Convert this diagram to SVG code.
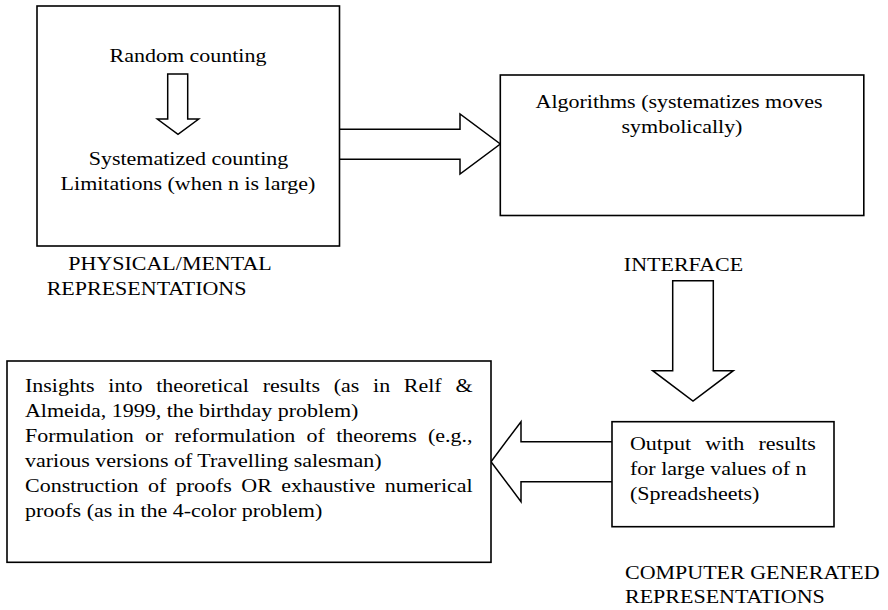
<svg xmlns="http://www.w3.org/2000/svg" width="888" height="610" viewBox="0 0 888 610">
<style>
  .box { fill: #ffffff; stroke: #000000; stroke-width: 1.6; }
  .arrow { fill: #ffffff; stroke: #000000; stroke-width: 1.5; stroke-linejoin: miter; }
  text { font-family: "Liberation Serif", "Times New Roman", serif; font-size: 22px; fill: #000000; }
  .c { text-anchor: middle; }
</style>
<rect x="0" y="0" width="888" height="610" fill="#ffffff"/>

<g id="connectors">
  <polyline class="arrow" points="339,129.3 460,129.3 460,114 500.3,144 460,174 460,159.3 339,159.3"/>
  <polygon class="arrow" points="672.7,280.7 713.3,280.7 713.3,370.7 733.3,370.7 693,401 652.7,370.7 672.7,370.7"/>
  <polyline class="arrow" points="612,441.7 521,441.7 521,421.7 491,461.7 521,501.7 521,481.7 612,481.7"/>
</g>

<g id="physical">
  <rect class="box" x="37" y="6" width="302.5" height="240"/>
  <text class="c" transform="translate(188,62) scale(1,0.86)">Random counting</text>
  <polygon class="arrow" points="167.7,74 187.7,74 187.7,119 198.7,119 178,134.3 157.3,119 167.7,119"/>
  <text class="c" transform="translate(188.5,165) scale(1,0.86)">Systematized counting</text>
  <text class="c" transform="translate(188,190) scale(1,0.86)">Limitations (when n is large)</text>
</g>
<g id="physical-label">
  <text transform="translate(68.3,270) scale(1,0.86)">PHYSICAL/MENTAL</text>
  <text transform="translate(46.7,295) scale(1,0.86)">REPRESENTATIONS</text>
</g>

<g id="algorithms">
  <rect class="box" x="500.3" y="75" width="363.5" height="140.5"/>
  <text class="c" transform="translate(679,108) scale(1,0.86)">Algorithms (systematizes moves</text>
  <text class="c" transform="translate(682,133) scale(1,0.86)">symbolically)</text>
</g>

<g id="interface-label">
  <text class="c" transform="translate(683.5,270.7) scale(1,0.86)">INTERFACE</text>
</g>

<g id="output">
  <rect class="box" x="612" y="421.7" width="222" height="105"/>
  <text transform="translate(630,450) scale(1,0.86)" word-spacing="8.7">Output with results</text>
  <text transform="translate(630,475) scale(1,0.86)">for large values of n</text>
  <text transform="translate(630,499.5) scale(1,0.86)">(Spreadsheets)</text>
</g>

<g id="computer-label">
  <text transform="translate(625,579) scale(1,0.86)">COMPUTER GENERATED</text>
  <text transform="translate(625,603.3) scale(1,0.86)">REPRESENTATIONS</text>
</g>

<g id="insights">
  <rect class="box" x="7" y="361" width="484" height="201.3"/>
  <text transform="translate(25,391.5) scale(1,0.86)" word-spacing="8.2">Insights into theoretical results (as in Relf &amp;</text>
  <text transform="translate(25,416.5) scale(1,0.86)">Almeida, 1999, the birthday problem)</text>
  <text transform="translate(25,441.7) scale(1,0.86)" word-spacing="5.76">Formulation or reformulation of theorems (e.g.,</text>
  <text transform="translate(25,466.7) scale(1,0.86)">various versions of Travelling salesman)</text>
  <text transform="translate(25,491.7) scale(1,0.86)" word-spacing="3.94">Construction of proofs OR exhaustive numerical</text>
  <text transform="translate(25,516.7) scale(1,0.86)">proofs (as in the 4-color problem)</text>
</g>
</svg>
